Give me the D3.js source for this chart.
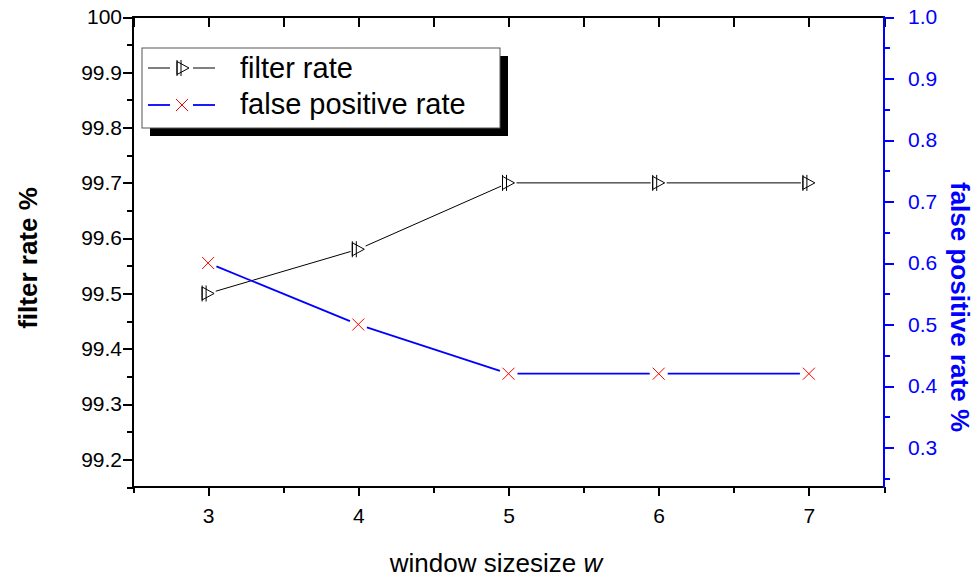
<!DOCTYPE html>
<html>
<head>
<meta charset="utf-8">
<title>filter rate / false positive rate</title>
<script src="https://d3js.org/d3.v7.min.js"></script>
<style>
  body { margin: 0; background: #fff; }
  svg { display: block; font-family: Arial, "Liberation Sans", sans-serif; }
  .axis path, .axis line { shape-rendering: crispEdges; }
</style>
</head>
<body>
<div id="vis"></div>
<script>
// data
const windowSizes = [3, 4, 5, 6, 7];
const filterRate = [99.5, 99.58, 99.7, 99.7, 99.7];
const falsePositiveRate = [0.6, 0.5, 0.42, 0.42, 0.42];

const xTicks = [3, 4, 5, 6, 7];
const xMinor = [2.5, 3.5, 4.5, 5.5, 6.5, 7.5];
const leftTicks = [100, 99.9, 99.8, 99.7, 99.6, 99.5, 99.4, 99.3, 99.2];
const leftMinor = [99.95, 99.85, 99.75, 99.65, 99.55, 99.45, 99.35, 99.25, 99.15];
const rightTicks = [1.0, 0.9, 0.8, 0.7, 0.6, 0.5, 0.4, 0.3];
const rightMinor = [0.95, 0.85, 0.75, 0.65, 0.55, 0.45, 0.35, 0.25];

const width = 978, height = 579;
const plotL = 133, plotR = 884, plotT = 17, plotB = 487;

const svg = d3.select("#vis").append("svg")
  .attr("width", width).attr("height", height);

const x = d3.scaleLinear().domain([2.5, 7.5]).range([plotL, plotR]);
const yL = d3.scaleLinear().domain([99.15, 100]).range([plotB, plotT]);
const yR = d3.scaleLinear().domain([0.2358, 1.0]).range([plotB, plotT]);

// ----- axes -----
function styleAxis(g, color, size) {
  g.attr("class", "axis");
  g.select(".domain").remove();
  g.selectAll("line").attr("stroke", color).attr("stroke-width", 2);
  g.selectAll("text").attr("fill", color).style("font-size", size + "px");
}

// bottom
svg.append("g").attr("transform", `translate(0,${plotB})`)
  .call(d3.axisBottom(x).tickValues(xMinor).tickSize(6).tickFormat(""))
  .call(g => styleAxis(g, "#000", 21));
svg.append("g").attr("transform", `translate(0,${plotB})`)
  .call(d3.axisBottom(x).tickValues(xTicks).tickSize(9).tickPadding(12).tickFormat(d3.format("d")))
  .call(g => styleAxis(g, "#000", 21));

// top (ticks inward)
svg.append("g").attr("transform", `translate(0,${plotT})`)
  .call(d3.axisBottom(x).tickValues(xTicks.concat(xMinor)).tickSize(10).tickFormat(""))
  .call(g => styleAxis(g, "#000", 21));

// left
svg.append("g").attr("transform", `translate(${plotL},0)`)
  .call(d3.axisLeft(yL).tickValues(leftMinor).tickSize(6).tickFormat(""))
  .call(g => styleAxis(g, "#000", 21));
svg.append("g").attr("transform", `translate(${plotL},0)`)
  .call(d3.axisLeft(yL).tickValues(leftTicks).tickSize(10).tickPadding(1)
    .tickFormat(d => d === 100 ? "100" : d3.format(".1f")(d)))
  .call(g => styleAxis(g, "#000", 21));

// right (blue)
svg.append("g").attr("transform", `translate(${plotR},0)`)
  .call(d3.axisRight(yR).tickValues(rightMinor).tickSize(6).tickFormat(""))
  .call(g => styleAxis(g, "#00f", 21));
svg.append("g").attr("transform", `translate(${plotR},0)`)
  .call(d3.axisRight(yR).tickValues(rightTicks).tickSize(10).tickPadding(14).tickFormat(d3.format(".1f")))
  .call(g => styleAxis(g, "#00f", 21));

// frame lines
svg.append("line").attr("x1", plotL).attr("x2", plotR).attr("y1", plotT).attr("y2", plotT)
  .attr("stroke", "#000").attr("stroke-width", 2);
svg.append("line").attr("x1", plotL).attr("x2", plotR).attr("y1", plotB).attr("y2", plotB)
  .attr("stroke", "#000").attr("stroke-width", 2);
svg.append("line").attr("x1", plotL).attr("x2", plotL).attr("y1", plotT - 1).attr("y2", plotB + 1)
  .attr("stroke", "#000").attr("stroke-width", 2);
svg.append("line").attr("x1", plotR).attr("x2", plotR).attr("y1", plotT - 1).attr("y2", plotB + 1)
  .attr("stroke", "#00f").attr("stroke-width", 2);

// ----- series -----
// segments stop short of each marker, like the original
function gappedSegments(pts, gap) {
  const segs = [];
  for (let i = 0; i < pts.length - 1; i++) {
    const [x1, y1] = pts[i], [x2, y2] = pts[i + 1];
    const len = Math.hypot(x2 - x1, y2 - y1);
    const ux = (x2 - x1) / len, uy = (y2 - y1) / len;
    segs.push([x1 + ux * gap, y1 + uy * gap, x2 - ux * gap, y2 - uy * gap]);
  }
  return segs;
}

function triMarker(g, cx, cy) {
  g.append("path")
    .attr("d", `M${cx - 6},${cy - 6.5}L${cx + 6},${cy}L${cx - 6},${cy + 6.5}Z`)
    .attr("fill", "none").attr("stroke", "#000").attr("stroke-width", 1);
  g.append("line").attr("x1", cx - 6).attr("x2", cx - 6).attr("y1", cy - 8).attr("y2", cy + 8)
    .attr("stroke", "#000").attr("stroke-width", 1);
  g.append("line").attr("x1", cx - 2).attr("x2", cx - 2).attr("y1", cy - 8).attr("y2", cy + 8)
    .attr("stroke", "#000").attr("stroke-width", 1);
}

function crossMarker(g, cx, cy) {
  g.append("path")
    .attr("d", `M${cx - 6},${cy - 6}L${cx + 6},${cy + 6}M${cx - 6},${cy + 6}L${cx + 6},${cy - 6}`)
    .attr("stroke", "#f00").attr("stroke-width", 1).attr("fill", "none");
}

const filterPts = windowSizes.map((w, i) => [x(w), yL(filterRate[i])]);
const fpPts = windowSizes.map((w, i) => [x(w), yR(falsePositiveRate[i])]);

const gFilter = svg.append("g");
gFilter.selectAll("line").data(gappedSegments(filterPts, 8)).enter().append("line")
  .attr("x1", d => d[0]).attr("y1", d => d[1]).attr("x2", d => d[2]).attr("y2", d => d[3])
  .attr("stroke", "#000").attr("stroke-width", 1);
filterPts.forEach(p => triMarker(gFilter, p[0], p[1]));

const gFp = svg.append("g");
gFp.selectAll("line").data(gappedSegments(fpPts, 9)).enter().append("line")
  .attr("x1", d => d[0]).attr("y1", d => d[1]).attr("x2", d => d[2]).attr("y2", d => d[3])
  .attr("stroke", "#00f").attr("stroke-width", 1.8);
fpPts.forEach(p => crossMarker(gFp, p[0], p[1]));

// ----- legend -----
const lg = svg.append("g");
lg.append("rect").attr("x", 150).attr("y", 56).attr("width", 358).attr("height", 80).attr("fill", "#000");
lg.append("rect").attr("x", 142).attr("y", 48).attr("width", 358).attr("height", 80)
  .attr("fill", "#fff").attr("stroke", "#555").attr("stroke-width", 1);

lg.append("line").attr("x1", 148).attr("x2", 170).attr("y1", 68).attr("y2", 68).attr("stroke", "#000");
lg.append("line").attr("x1", 193).attr("x2", 215).attr("y1", 68).attr("y2", 68).attr("stroke", "#000");
triMarker(lg, 183, 68);
lg.append("line").attr("x1", 148).attr("x2", 170).attr("y1", 105).attr("y2", 105).attr("stroke", "#00f").attr("stroke-width", 1.8);
lg.append("line").attr("x1", 193).attr("x2", 215).attr("y1", 105).attr("y2", 105).attr("stroke", "#00f").attr("stroke-width", 1.8);
crossMarker(lg, 182, 105);

lg.append("text").attr("x", 240).attr("y", 78).style("font-size", "29px").text("filter rate");
lg.append("text").attr("x", 240).attr("y", 114).style("font-size", "29px").text("false positive rate");

// ----- titles -----
svg.append("text")
  .attr("transform", "translate(28,258) rotate(-90)")
  .attr("text-anchor", "middle").attr("dominant-baseline", "central")
  .style("font-size", "26px").style("font-weight", "bold")
  .text("filter rate %");

svg.append("text")
  .attr("transform", "translate(960,307) rotate(90)")
  .attr("text-anchor", "middle").attr("dominant-baseline", "central")
  .attr("fill", "#00f")
  .style("font-size", "26px").style("font-weight", "bold")
  .text("false positive rate %");

const xt = svg.append("text")
  .attr("x", 496).attr("y", 572).attr("text-anchor", "middle")
  .style("font-size", "26px");
xt.append("tspan").text("window sizesize ");
xt.append("tspan").style("font-style", "italic").text("w");
</script>
</body>
</html>
